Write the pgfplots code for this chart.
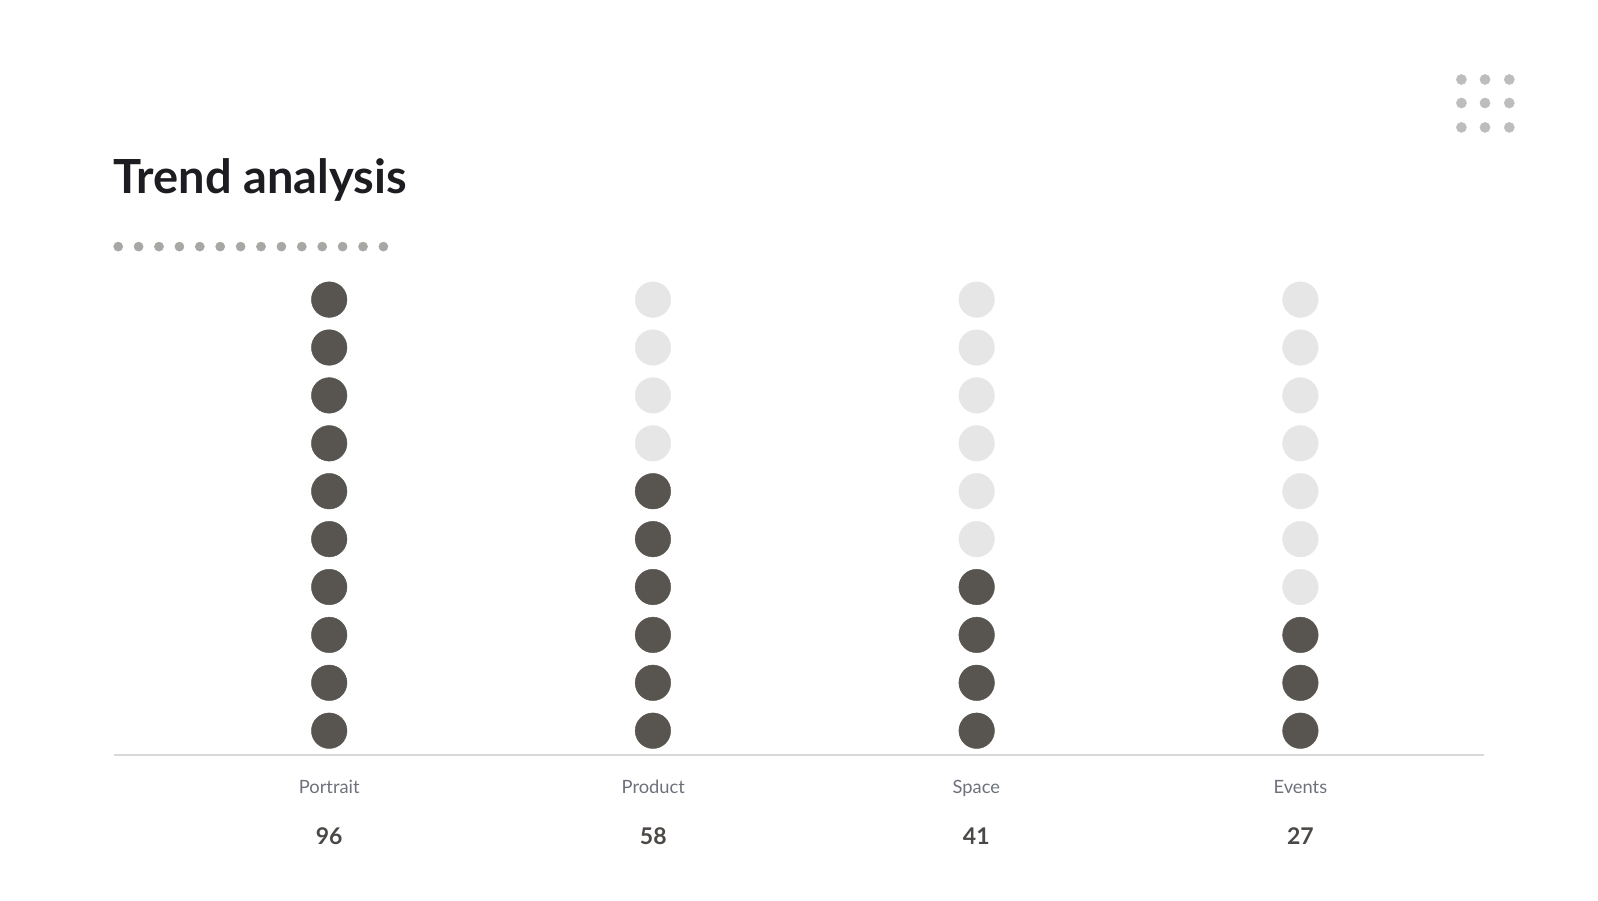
\documentclass[border=0pt]{standalone}
\usepackage{pgfplots}
\pgfplotsset{compat=1.18}
\usepackage{pgfplotstable}
\usepackage{fontspec}
\setmainfont{Lato}
\definecolor{dotdark}{HTML}{58544F}
\definecolor{dotlight}{HTML}{E6E6E6}
\definecolor{titlec}{HTML}{1C1C21}
\definecolor{labelc}{HTML}{6E717B}
\definecolor{valuec}{HTML}{4B4845}
\definecolor{smalldot}{HTML}{A9A7A3}
\definecolor{griddot}{HTML}{BDBDBD}
\definecolor{basec}{HTML}{D9D9D9}

% filled dots: one per 10 units of value (96, 58, 41, 27)
\pgfplotstableread{
x y
0 1
0 2
0 3
0 4
0 5
0 6
0 7
0 8
0 9
0 10
1 1
1 2
1 3
1 4
1 5
1 6
2 1
2 2
2 3
2 4
3 1
3 2
3 3
}\filled
\pgfplotstableread{
x y
1 7
1 8
1 9
1 10
2 5
2 6
2 7
2 8
2 9
2 10
3 4
3 5
3 6
3 7
3 8
3 9
3 10
}\emptydots
\begin{document}
\begin{tikzpicture}
\useasboundingbox (0,0) rectangle (1598pt,900pt);
% frame axis in pixel units (y downwards)
\begin{axis}[
  at={(0,0)}, anchor=south west,
  width=1598pt, height=900pt, scale only axis,
  xmin=0, xmax=1598, ymin=0, ymax=900, y dir=reverse,
  hide axis, clip=false]
  \addplot[only marks, mark=*, mark size=4.6pt, color=smalldot] coordinates {
    (118.2,246.6) (138.6,246.6) (159.0,246.6) (179.4,246.6) (199.8,246.6) (220.2,246.6) (240.6,246.6)
    (261.0,246.6) (281.4,246.6) (301.8,246.6) (322.2,246.6) (342.6,246.6) (363.0,246.6) (383.4,246.6)};
  \addplot[only marks, mark=*, mark size=5.1pt, color=griddot] coordinates {
    (1461.4,79.5) (1485.0,79.5) (1509.3,79.5)
    (1461.4,103.0) (1485.0,103.0) (1509.3,103.0)
    (1461.4,127.4) (1485.0,127.4) (1509.3,127.4)};
  \addplot[color=basec, line width=1.3pt] coordinates {(114,755) (1484,755)};
  \node[anchor=base west, inner sep=0pt, font=\fontsize{47}{50}\selectfont\bfseries, text=titlec] at (axis cs:113,193.5) {Trend analysis};
  \node[anchor=base, inner sep=0pt, font=\fontsize{18.3}{20}\selectfont, text=labelc] at (axis cs:329.2,793) {Portrait};
  \node[anchor=base, inner sep=0pt, font=\fontsize{18.3}{20}\selectfont, text=labelc] at (axis cs:653.3,793) {Product};
  \node[anchor=base, inner sep=0pt, font=\fontsize{18.3}{20}\selectfont, text=labelc] at (axis cs:976.3,793) {Space};
  \node[anchor=base, inner sep=0pt, font=\fontsize{18.3}{20}\selectfont, text=labelc] at (axis cs:1300.4,793) {Events};
  \node[anchor=base, inner sep=0pt, font=\fontsize{23}{26}\selectfont\bfseries, text=valuec] at (axis cs:329.2,844.5) {96};
  \node[anchor=base, inner sep=0pt, font=\fontsize{23}{26}\selectfont\bfseries, text=valuec] at (axis cs:653.3,844.5) {58};
  \node[anchor=base, inner sep=0pt, font=\fontsize{23}{26}\selectfont\bfseries, text=valuec] at (axis cs:976.3,844.5) {41};
  \node[anchor=base, inner sep=0pt, font=\fontsize{23}{26}\selectfont\bfseries, text=valuec] at (axis cs:1300.4,844.5) {27};
\end{axis}
% data axis: x = category index, y = dot level
\begin{axis}[
  at={(0,0)}, anchor=south west,
  width=1598pt, height=900pt, scale only axis,
  xmin=-1.0169, xmax=3.9193, ymin=-2.534, ymax=16.255,
  hide axis, clip=false]
  \addplot[only marks, mark=*, mark size=17.8pt, color=dotlight] table[x=x,y=y] {\emptydots};
  \addplot[only marks, mark=*, mark size=17.8pt, color=dotdark] table[x=x,y=y] {\filled};
\end{axis}
\end{tikzpicture}
\end{document}
